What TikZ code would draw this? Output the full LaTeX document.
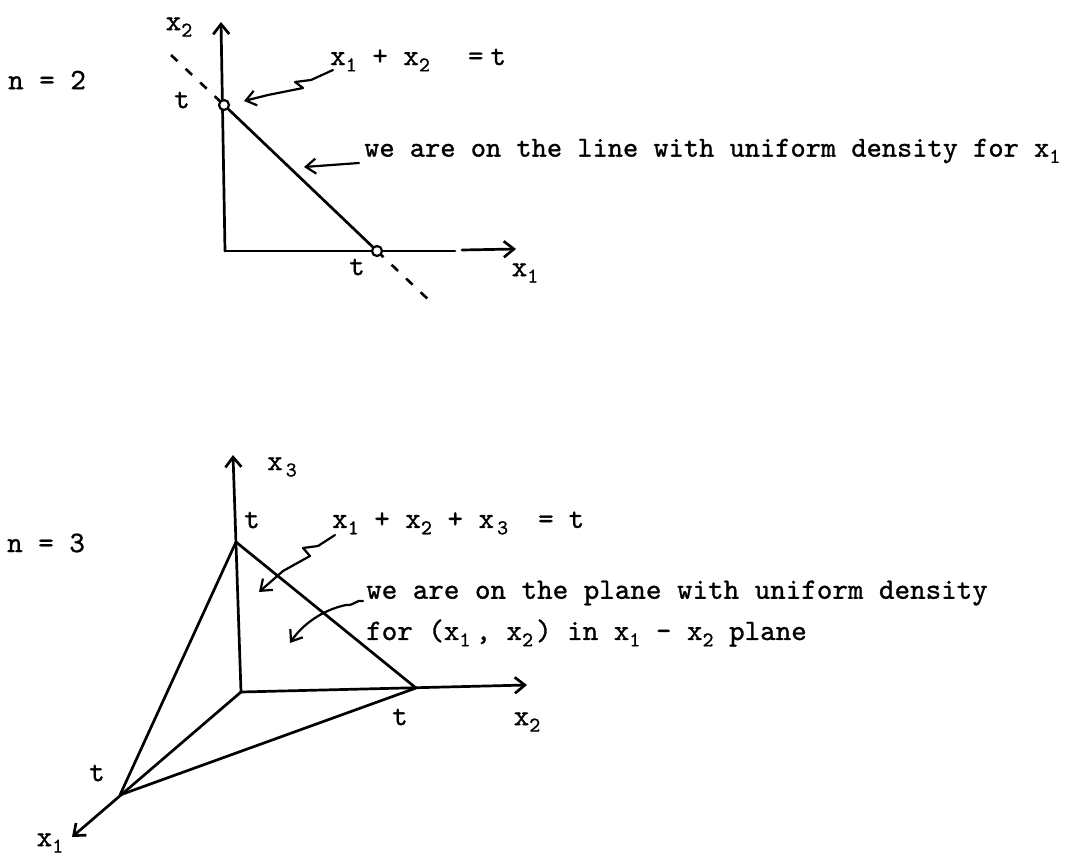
\documentclass[tikz,border=0pt]{standalone}
\usepackage{fontspec}
\usetikzlibrary{arrows.meta}
\newfontfamily\tw{lmmono10-regular.otf}[FakeBold=1.0]
\newcommand\sub[1]{\raisebox{-0.5ex}{\fontsize{21}{21}\selectfont #1}}
\begin{document}
\begin{tikzpicture}[x=1pt,y=-1pt,
  every node/.style={font=\tw\fontsize{29.6}{34}\selectfont, inner sep=0pt},
  ln/.style={line width=2.7pt, line cap=round, line join=round},
  arr/.style={ln, -{Straight Barb[length=10pt,width=16pt]}},
  thin arr/.style={line width=2.2pt, line cap=round, line join=round, -{Straight Barb[length=10pt,width=15pt]}},
  dsh/.style={line width=2.6pt, dash pattern=on 9pt off 11pt},
  dot/.style={circle, draw, line width=2.2pt, fill=white, minimum size=10pt, inner sep=0pt}]
\useasboundingbox (0,0) rectangle (1066,859);
% ---------------- n = 2 ----------------
\coordinate (O2) at (225,251);
\coordinate (Y2) at (221,22);
\coordinate (P2) at (224,105);
\coordinate (P1) at (377,251);
\coordinate (X1a) at (455,251);
\coordinate (X1b) at (462,250);
\coordinate (X1) at (516,249);
\coordinate (D1) at (171,55);
\coordinate (D2) at (432,303);
\draw[arr] (O2) -- (Y2);
\draw[ln] (O2) -- (X1a);
\draw[arr] (X1b) -- (X1);
\draw[ln] (P2) -- (P1);
\draw[dsh] (D1) -- (P2);
\draw[dsh] (P1) -- (D2);
\node[dot] (c2) at (P2) {};
\node[dot] (c1) at (P1) {};
\node (lx2) at (179,27) {x\sub2};
\node (lt2a) at (182,100) {t};
\node (lt2b) at (357,267) {t};
\node (lx1) at (525,273) {x\sub1};
\node (n2) at (47,80) {n = 2};
\node[anchor=west] (eq2) at (330,60) {x\sub1 + x\sub2\hspace{38pt}=\hspace{7pt}t};
\node[anchor=west, font=\tw\fontsize{29}{34}\selectfont] (lin) at (364,151) {we are on the line with uniform density for x\sub1};
\coordinate (s1) at (333,70);
\coordinate (s1t) at (244,101);
\draw[thin arr] (s1) -- (311,80) -- (295,82) -- (303,88) -- (268,95) -- (s1t);
\coordinate (a1) at (359,163);
\coordinate (a1t) at (304,167);
\draw[thin arr] (a1) -- (a1t);
% ---------------- n = 3 ----------------
\coordinate (O3) at (241,692);
\coordinate (T3) at (236,542);
\coordinate (Z3) at (233,455);
\coordinate (T2) at (416,688);
\coordinate (Y3) at (527,685);
\coordinate (T1) at (120,795);
\coordinate (X3) at (72,837);
\draw[arr] (O3) -- (Z3);
\draw[arr] (O3) -- (Y3);
\draw[arr] (O3) -- (X3);
\draw[ln] (T3) -- (T2) -- (T1) -- cycle;
\node (lx3) at (282,467) {x\hspace{3pt}\sub3};
\node (lt3a) at (252,520) {t};
\node (lt3b) at (400,717) {t};
\node (lx2b) at (527,722) {x\sub2};
\node (lt3c) at (97,773) {t};
\node (lx1b) at (50,843) {x\sub1};
\node (n3) at (46,543) {n = 3};
\node[anchor=west] (eq3) at (332,523) {x\sub1 + x\sub2 + x\hspace{3pt}\sub3\hspace{30pt}=\hspace{15pt}t};
\node[anchor=west] (pl1) at (366,593) {we are on the plane with uniform density};
\node[anchor=west] (pl2) at (366,633) {for (x\sub1\hspace{5pt}, x\sub2\hspace{3pt}) in x\sub1 - x\sub2\ plane};
\coordinate (s2) at (335,535);
\coordinate (s2t) at (259,592);
\draw[thin arr] (s2) -- (318,546) -- (303,548) -- (310,556) -- (283,571) -- (s2t);
\coordinate (s3) at (363,601);
\coordinate (s3t) at (290,643);
\draw[thin arr] (s3) .. controls (357,599) and (354,606) .. (346,605) .. controls (322,610) and (302,625) .. (s3t);
\end{tikzpicture}
\end{document}
